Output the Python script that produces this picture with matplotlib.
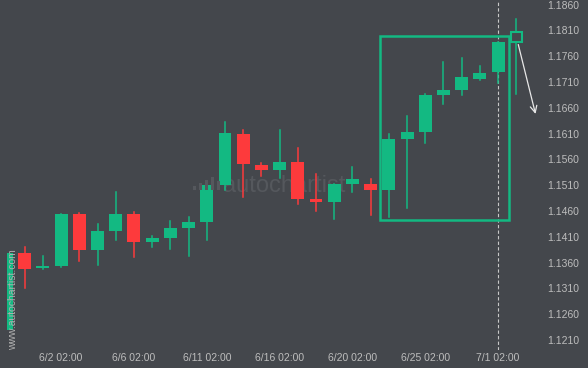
import matplotlib.pyplot as plt
from matplotlib.patches import Rectangle

# daily candles, index 0 is the partly hidden one at the left edge
opens = [1.1229, 1.1379, 1.1350, 1.1353, 1.1454, 1.1384, 1.1421, 1.1454, 1.1400, 1.1408,
         1.1427, 1.1439, 1.1510, 1.1609, 1.1549, 1.1540, 1.1555, 1.1483, 1.1478, 1.1512,
         1.1512, 1.1501, 1.1600, 1.1613, 1.1685, 1.1695, 1.1716, 1.1730]
closes = [1.1379, 1.1348, 1.1353, 1.1454, 1.1384, 1.1421, 1.1454, 1.1399, 1.1408, 1.1427,
          1.1439, 1.1511, 1.1611, 1.1552, 1.1540, 1.1555, 1.1483, 1.1478, 1.1512, 1.1522,
          1.1501, 1.1600, 1.1613, 1.1685, 1.1695, 1.1720, 1.1728, 1.1788]
highs = [1.1379, 1.1391, 1.1373, 1.1454, 1.1457, 1.1434, 1.1496, 1.1458, 1.1412, 1.1441,
         1.1448, 1.1514, 1.1632, 1.1617, 1.1553, 1.1617, 1.1582, 1.1532, 1.1512, 1.1545,
         1.1522, 1.1609, 1.1644, 1.1686, 1.1748, 1.1756, 1.1741, 1.1788]
lows = [1.1229, 1.1311, 1.1347, 1.1352, 1.1364, 1.1356, 1.1404, 1.1371, 1.1391, 1.1387,
        1.1373, 1.1404, 1.1501, 1.1488, 1.1527, 1.1525, 1.1474, 1.1461, 1.1445, 1.1496,
        1.1453, 1.1449, 1.1465, 1.1591, 1.1668, 1.1684, 1.1714, 1.1709]

# the open "next" candle after the pattern
next_ohlc = [1.1788, 1.1832, 1.1686, 1.1807]

# rising pattern box and the expected move
box_x = [20.52, 27.59]
box_y = [1.1443, 1.1799]
arrow_start = [28.07, 1.1788]
arrow_end = [29.09, 1.1643]

tick_idx = [3, 7, 11, 15, 19, 23, 27]
tick_lab = ['6/2 02:00', '6/6 02:00', '6/11 02:00', '6/16 02:00',
            '6/20 02:00', '6/25 02:00', '7/1 02:00']
yticks = [1.1210, 1.1260, 1.1310, 1.1360, 1.1410, 1.1460, 1.1510, 1.1560,
          1.1610, 1.1660, 1.1710, 1.1760, 1.1810, 1.1860]

bg = '#44474c'
up = '#13b982'
down = '#fd3a3c'
txt = '#bdbdbd'

plt.rcParams['font.family'] = ['Liberation Sans', 'DejaVu Sans']

fig = plt.figure(figsize=(5.88, 3.68), dpi=100, facecolor=bg)
ax = fig.add_axes([7/588, 18/368, 533/588, 350/368])
ax.set_facecolor(bg)

w = 0.71
for i in range(len(opens)):
    o, h, l, c = opens[i], highs[i], lows[i], closes[i]
    col = up if c >= o else down
    ax.plot([i, i], [l, h], color=col, lw=1.1, zorder=2)
    ax.add_patch(Rectangle((i - w/2, min(o, c)), w, max(abs(c - o), 0.00008),
                           facecolor=col, edgecolor='none', zorder=3))

n = len(opens)
o, h, l, c = next_ohlc
ax.plot([n, n], [l, min(o, c)], color=up, lw=1.1, zorder=2)
ax.plot([n, n], [max(o, c), h], color=up, lw=1.1, zorder=2)
ax.add_patch(Rectangle((n - 0.32, min(o, c)), 0.64, abs(c - o),
                       facecolor=bg, edgecolor=up, lw=1.5, zorder=3))

ax.add_patch(Rectangle((box_x[0], box_y[0]), box_x[1] - box_x[0], box_y[1] - box_y[0],
                       facecolor='none', edgecolor=up, lw=1.8, zorder=4))

ax.axvline(27, color='#c8c8c8', lw=0.8, ls=(0, (3, 2)), zorder=1)

ax.annotate('', xy=arrow_end, xytext=arrow_start,
            arrowprops=dict(arrowstyle='->', color='#e8e8e8', lw=0.9, mutation_scale=12),
            zorder=5)

# watermarks
ax.text(0.52, 0.47, 'autochartist', transform=ax.transAxes, fontsize=17,
        color='#55585d', ha='center', va='center', zorder=1)
logo_h = [4, 7, 10, 13, 9]
for k, hh in enumerate(logo_h):
    fig.patches.append(Rectangle(((193 + k * 6) / 588, (368 - 190) / 368), 3 / 588, hh / 368,
                                 transform=fig.transFigure, facecolor='#55585d',
                                 edgecolor='none', zorder=0.5))
fig.text(13/588, 68/368, 'www.autochartist.com', rotation=90, fontsize=7.5,
         color='#b0b0b0', ha='center', va='center', zorder=6)

ax.set_xlim(0.03, 29.3)
ax.set_ylim(1.11906, 1.18691)
ax.set_xticks(tick_idx)
ax.set_xticklabels(tick_lab)
ax.set_yticks(yticks)
ax.set_yticklabels(['%.4f' % v for v in yticks])
ax.yaxis.tick_right()
ax.tick_params(axis='both', length=0, colors=txt, labelsize=7.5)
ax.tick_params(axis='y', pad=5)
ax.tick_params(axis='x', pad=2)
for s in ax.spines.values():
    s.set_visible(False)

fig.savefig('out.png', dpi=100, facecolor=bg)
